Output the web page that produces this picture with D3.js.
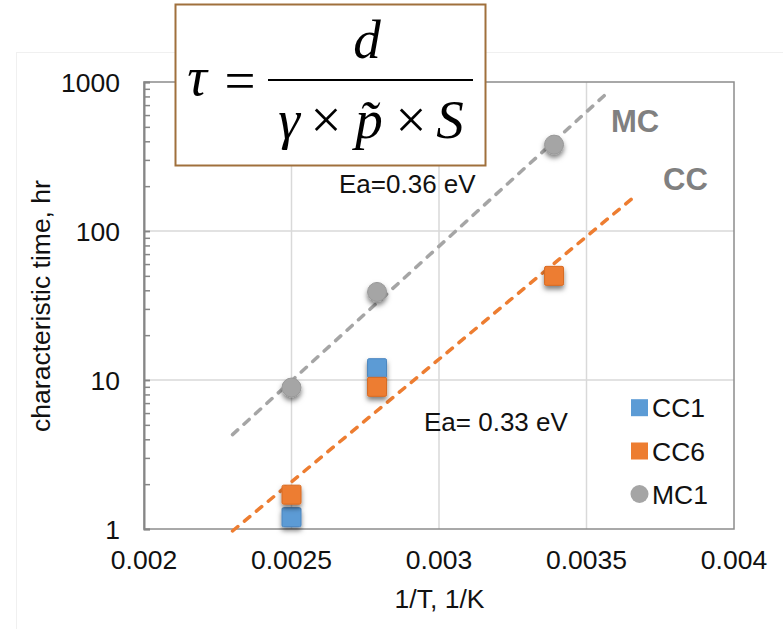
<!DOCTYPE html>
<html>
<head>
<meta charset="utf-8">
<script src="https://cdn.jsdelivr.net/npm/d3@7"></script>
<style>
  html, body { margin: 0; padding: 0; background: #fff; }
  svg { display: block; }
  text { font-family: "Liberation Sans", Arial, sans-serif; }
  .eq { font-family: "Liberation Serif", "Times New Roman", serif; }
</style>
</head>
<body>
<svg id="chart" width="783" height="629"></svg>
<script>
// Inverse temperature (1/K) and characteristic time (hr) per sample
const xCC1 = [0.0025, 0.00279];
const yCC1 = [1.2, 12];
const xCC6 = [0.0025, 0.00279, 0.00339];
const yCC6 = [1.7, 9, 50];
const xMC1 = [0.0025, 0.00279, 0.00339];
const yMC1 = [8.9, 39, 380];

// Arrhenius fit lines, given by their end points
const fitMCx = [0.0023, 0.00358];
const fitMCy = [4.3, 880];
const fitCCx = [0.0023, 0.00367];
const fitCCy = [0.97, 175];

const xTicks = [0.002, 0.0025, 0.003, 0.0035, 0.004];
const xTickLabels = ["0.002", "0.0025", "0.003", "0.0035", "0.004"];
const yTicks = [1, 10, 100, 1000];
const yTickLabels = ["1", "10", "100", "1000"];
const legendNames = ["CC1", "CC6", "MC1"];

const colors = { CC1: "#5b9bd5", CC6: "#ed7d31", MC1: "#a5a5a5" };

const svg = d3.select("#chart");
const plot = { left: 144, right: 734, top: 82, bottom: 529 };

const x = d3.scaleLinear().domain([0.002, 0.004]).range([plot.left, plot.right]);
const y = d3.scaleLog().domain([1, 1000]).range([plot.bottom, plot.top]);

// drop shadow under markers
const defs = svg.append("defs");
const f = defs.append("filter").attr("id", "shadow")
  .attr("x", "-50%").attr("y", "-50%").attr("width", "200%").attr("height", "200%");
f.append("feDropShadow").attr("dx", 0).attr("dy", 3.5).attr("stdDeviation", 2.5)
  .attr("flood-color", "#000").attr("flood-opacity", 0.5);

// faint outer chart frame
svg.append("rect").attr("x", 16.5).attr("y", 52.5).attr("width", 800).attr("height", 700)
  .attr("fill", "none").attr("stroke", "#f0f0f0").attr("stroke-width", 1);

// gridlines
svg.append("g").selectAll("line").data(xTicks.slice(1, -1)).join("line")
  .attr("x1", d => x(d)).attr("x2", d => x(d))
  .attr("y1", plot.top).attr("y2", plot.bottom)
  .attr("stroke", "#d9d9d9").attr("stroke-width", 1.5);
svg.append("g").selectAll("line").data(yTicks.slice(1, -1)).join("line")
  .attr("x1", plot.left).attr("x2", plot.right)
  .attr("y1", d => y(d)).attr("y2", d => y(d))
  .attr("stroke", "#d9d9d9").attr("stroke-width", 1.5);

// plot border
svg.append("rect").attr("x", plot.left).attr("y", plot.top)
  .attr("width", plot.right - plot.left).attr("height", plot.bottom - plot.top)
  .attr("fill", "none").attr("stroke", "#8c8c8c").attr("stroke-width", 1.5);

// left axis with inward log ticks
const minor = [];
for (let dec = 1; dec < 1000; dec *= 10) {
  for (let k = 1; k <= 10; k++) minor.push(dec * k);
}
const yAxis = d3.axisRight(y).tickValues(minor).tickSize(6).tickFormat("");
const gy = svg.append("g").attr("transform", `translate(${plot.left},0)`).call(yAxis);
gy.select(".domain").attr("stroke", "#868686").attr("stroke-width", 2);
gy.selectAll(".tick line").attr("stroke", "#868686").attr("stroke-width", 1.5);

// y tick labels
svg.append("g").selectAll("text").data(yTicks).join("text")
  .attr("x", 120).attr("y", d => y(d) + 9.5)
  .attr("text-anchor", "end").attr("font-size", 26.5).attr("fill", "#111")
  .text((d, i) => yTickLabels[i]);

// x tick labels
svg.append("g").selectAll("text").data(xTicks).join("text")
  .attr("x", d => x(d)).attr("y", 569)
  .attr("text-anchor", "middle").attr("font-size", 26.5).attr("fill", "#111")
  .text((d, i) => xTickLabels[i]);

// axis titles
svg.append("text").attr("transform", "translate(49.5,306) rotate(-90)")
  .attr("text-anchor", "middle").attr("font-size", 26.5).attr("fill", "#111")
  .text("characteristic time, hr");
svg.append("text").attr("x", 439.5).attr("y", 608)
  .attr("text-anchor", "middle").attr("font-size", 26.5).attr("fill", "#111")
  .text("1/T, 1/K");

// fit lines
const line = d3.line().x(d => x(d[0])).y(d => y(d[1]));
svg.append("path").datum(d3.zip(fitMCx, fitMCy)).attr("d", line)
  .attr("fill", "none").attr("stroke", "#a5a5a5").attr("stroke-width", 3.5)
  .attr("stroke-dasharray", "7,8.5").attr("stroke-linecap", "round");
svg.append("path").datum(d3.zip(fitCCx, fitCCy)).attr("d", line)
  .attr("fill", "none").attr("stroke", "#ed7d31").attr("stroke-width", 3.5)
  .attr("stroke-dasharray", "7,8.5").attr("stroke-linecap", "round");

// markers
const sq = 19;
function squares(xs, ys, color, stroke) {
  svg.append("g").attr("filter", "url(#shadow)").selectAll("rect")
    .data(d3.zip(xs, ys)).join("rect")
    .attr("x", d => x(d[0]) - sq / 2).attr("y", d => y(d[1]) - sq / 2)
    .attr("width", sq).attr("height", sq).attr("rx", 1.5)
    .attr("fill", color).attr("stroke", stroke).attr("stroke-width", 1);
}
squares(xCC1, yCC1, colors.CC1, "#4a86c0");
squares(xCC6, yCC6, colors.CC6, "#d86a22");
svg.append("g").attr("filter", "url(#shadow)").selectAll("circle")
  .data(d3.zip(xMC1, yMC1)).join("circle")
  .attr("cx", d => x(d[0])).attr("cy", d => y(d[1])).attr("r", 9.5)
  .attr("fill", colors.MC1).attr("stroke", "#989898").attr("stroke-width", 1);

// annotations
svg.append("text").attr("x", 339).attr("y", 193).attr("font-size", 26).attr("fill", "#111")
  .text("Ea=0.36 eV");
svg.append("text").attr("x", 424).attr("y", 431).attr("font-size", 26).attr("fill", "#111")
  .text("Ea= 0.33 eV");
svg.append("text").attr("x", 611).attr("y", 132).attr("font-size", 31).attr("font-weight", "bold")
  .attr("fill", "#808080").text("MC");
svg.append("text").attr("x", 663).attr("y", 190).attr("font-size", 31).attr("font-weight", "bold")
  .attr("fill", "#808080").text("CC");

// legend
const legY = [407.7, 451, 494];
const lg = svg.append("g");
legendNames.forEach((name, i) => {
  if (name === "MC1") {
    lg.append("circle").attr("cx", 639.5).attr("cy", legY[i]).attr("r", 9)
      .attr("fill", colors[name]);
  } else {
    lg.append("rect").attr("x", 631).attr("y", legY[i] - 8.5).attr("width", 17).attr("height", 17)
      .attr("fill", colors[name]);
  }
  lg.append("text").attr("x", 652).attr("y", legY[i] + 9.5).attr("font-size", 26.5)
    .attr("fill", "#111").text(name);
});

// formula box
const eq = svg.append("g");
eq.append("rect").attr("x", 175.5).attr("y", 4.5).attr("width", 310).attr("height", 161)
  .attr("fill", "#fff").attr("stroke", "#a0703c").attr("stroke-width", 2);
const eqSize = 55;
function eqText(t, cx, by, italic) {
  return eq.append("text").attr("class", "eq").attr("x", cx).attr("y", by)
    .attr("text-anchor", "middle").attr("font-size", eqSize)
    .attr("font-style", italic ? "italic" : "normal").attr("fill", "#000").text(t);
}
eqText("τ", 197, 95, true);
eqText("=", 240, 99, false);
eq.append("line").attr("x1", 268).attr("x2", 473).attr("y1", 80).attr("y2", 80)
  .attr("stroke", "#000").attr("stroke-width", 2.2);
eqText("d", 367, 58, true);
eqText("γ", 289, 138, true);
eqText("×", 326, 138, false);
// p with a combining tilde
eqText("p\u0303", 369, 138, true);
eqText("×", 411, 138, false);
eqText("S", 450, 138, true);
</script>
</body>
</html>
